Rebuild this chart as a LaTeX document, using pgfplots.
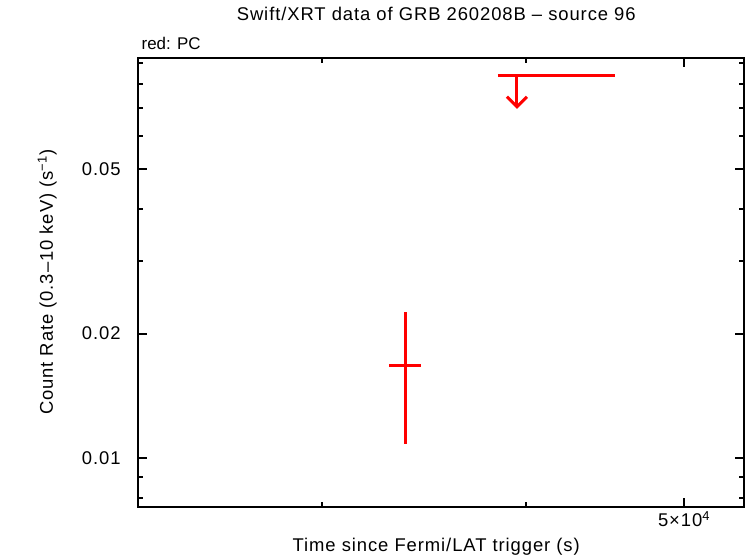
\documentclass[border=0pt]{standalone}
\usepackage{fontspec}
\setmainfont{Liberation Sans}[LetterSpace=5]
\newfontfamily\plainsans{Liberation Sans}
\usepackage{pgfplots}
\pgfplotsset{compat=1.18}
\usetikzlibrary{arrows.meta}
\definecolor{xrtred}{RGB}{255,0,0}
\begin{document}
\begin{tikzpicture}[x=1bp,y=1bp]
\path[use as bounding box] (0,0) rectangle (746,558);
\begin{axis}[
  at={(138bp,51bp)}, anchor=south west,
  scale only axis, width=606bp, height=449bp,
  xmode=log, ymode=log,
  xmin=23120, xmax=54430, ymin=0.00762, ymax=0.0926,
  axis line style={line width=2bp},
  tick align=inside,
  xtick={50000}, xticklabels={5×10\textsuperscript{4}},
  minor xtick={30000,40000},
  ytick={0.01,0.02,0.05}, yticklabels={0.01,0.02,0.05},
  minor ytick={0.008,0.009,0.03,0.04,0.06,0.07,0.08,0.09},
  major tick length=9bp, minor tick length=5bp,
  every tick/.style={black, line width=2bp},
  tick label style={font=\fontsize{18.5}{20}\selectfont},
  yticklabel style={xshift=-14bp},
  xticklabel style={yshift=-1bp},
  label style={font=\fontsize{18.5}{21}\selectfont},
  title style={font=\fontsize{18.5}{21}\selectfont, at={(0.492,1.0846)}, anchor=center},
  xlabel style={at={(0.492,-0.089)}, anchor=center},
  ylabel style={at={(-0.150,0.501)}, anchor=center},
  xlabel={Time since Fermi/LAT trigger (s)},
  ylabel={Count Rate (0.3–10 keV) (s\textsuperscript{−1})},
  title={Swift/XRT data of GRB 260208B – source 96},
  clip=false,
]
% detection with errors
\addplot[xrtred, line width=3bp, mark=none, draw=none,
  error bars/.cd, x dir=both, y dir=both, x explicit, y explicit,
  error mark=none, error bar style={xrtred, line width=3bp}]
  coordinates {(33720,0.01674) += (770,0.00585) -= (750,0.00594)};
% upper limit
\addplot[xrtred, line width=3bp] coordinates {(38440,0.0842) (45350,0.0842)};
\addplot[xrtred, line width=3bp, -{Straight Barb[length=10bp,width=20bp]}]
  coordinates {(39490,0.0842) (39490,0.0698)};
\node[anchor=west, font=\plainsans\fontsize{17}{19}\selectfont] at (axis description cs:0,1.033) {red: PC};
\end{axis}
\end{tikzpicture}
\end{document}
